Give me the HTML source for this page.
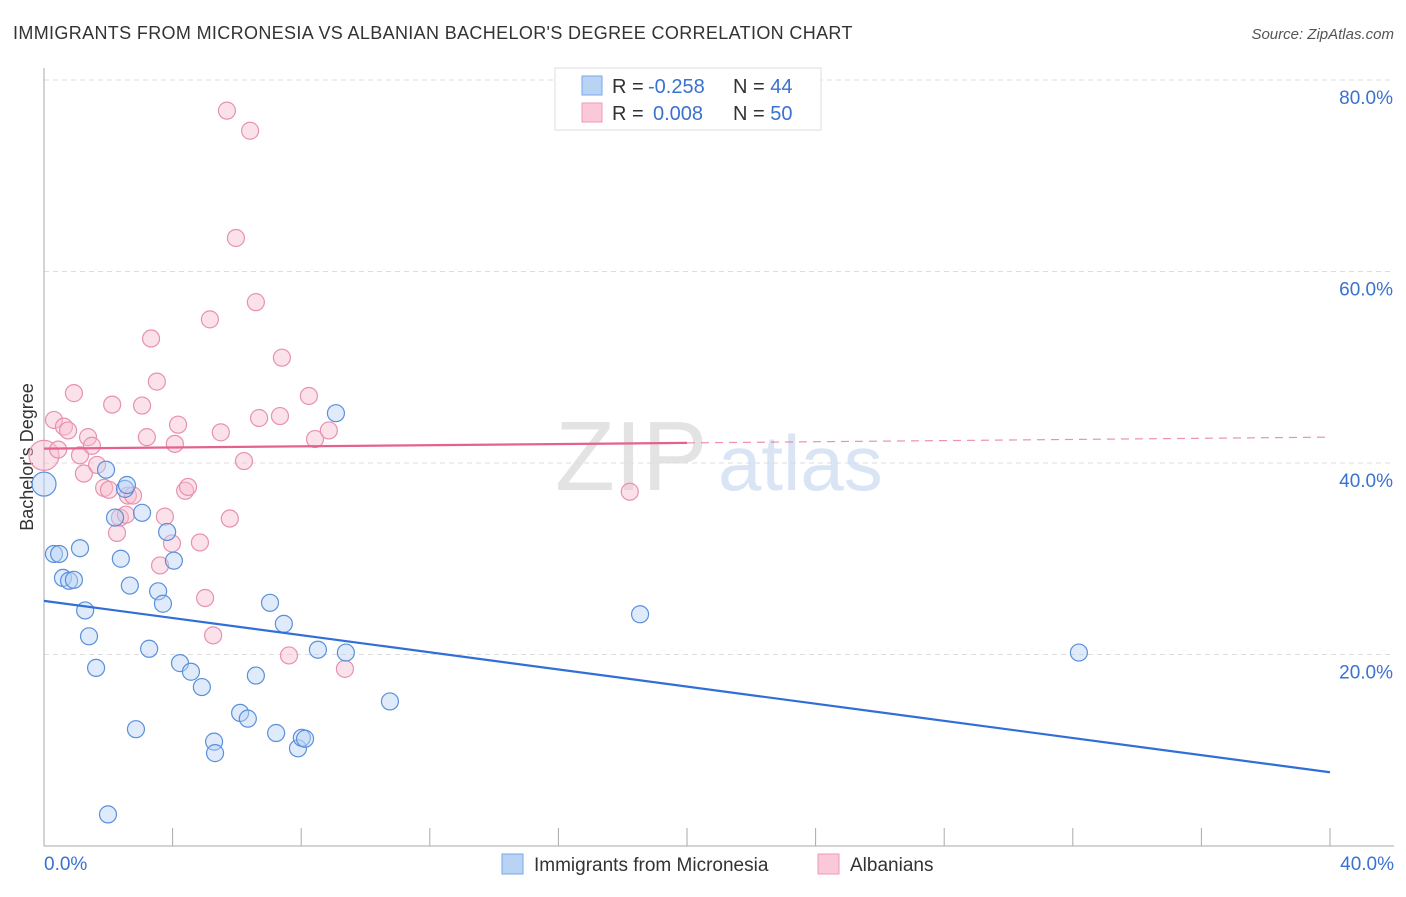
<!DOCTYPE html>
<html><head><meta charset="utf-8"><style>
body{margin:0;background:#fff;font-family:"Liberation Sans",sans-serif}
svg text{font-family:"Liberation Sans",sans-serif}
</style></head><body>
<svg id="chart" width="1406" height="892" xmlns="http://www.w3.org/2000/svg">
<text x="13" y="39" font-size="18" fill="#333" letter-spacing="0.35">IMMIGRANTS FROM MICRONESIA VS ALBANIAN BACHELOR'S DEGREE CORRELATION CHART</text>
<text x="1394" y="39" font-size="15" fill="#555" text-anchor="end" font-style="italic">Source: ZipAtlas.com</text>
<g id="grid"></g>
<text x="555" y="490" font-size="98" fill="#ddd" font-family="Liberation Serif" opacity="0.8">ZIP</text>
<text x="718" y="490" font-size="78" fill="#c9daf0" opacity="0.7">atlas</text>
<text transform="translate(33,457) rotate(-90)" font-size="18" fill="#333" text-anchor="middle">Bachelor's Degree</text>
<g id="pts"></g>
<g id="trends"></g>
<g>
<rect x="555" y="68" width="266" height="62" fill="#fff" stroke="#ddd"/>
<rect x="582" y="76" width="20" height="19" fill="#b9d3f5" stroke="#7aa6e6"/>
<rect x="582" y="103" width="20" height="19" fill="#fac8d8" stroke="#ef9ab6"/>
<text x="612" y="93" font-size="20" fill="#333">R =</text>
<text x="648" y="93" font-size="20" fill="#3a72d0">-0.258</text>
<text x="733" y="93" font-size="20" fill="#333">N = <tspan fill="#3a72d0">44</tspan></text>
<text x="612" y="120" font-size="20" fill="#333">R =</text>
<text x="653" y="120" font-size="20" fill="#3a72d0">0.008</text>
<text x="733" y="120" font-size="20" fill="#333">N = <tspan fill="#3a72d0">50</tspan></text>
</g>
<g>
<rect x="502" y="854" width="21" height="20" fill="#b9d3f5" stroke="#7aa6e6"/>
<text x="534" y="871" font-size="19" fill="#333">Immigrants from Micronesia</text>
<rect x="818" y="854" width="21" height="20" fill="#fac8d8" stroke="#ef9ab6"/>
<text x="850" y="871" font-size="19" fill="#333">Albanians</text>
</g>
</svg>
<script>
const xTicks=[0,4,8,12,16,20,24,28,32,36,40];
const yTicks=[20,40,60,80];
const blueX=[0,0.31,0.47,0.59,0.78,0.93,1.12,1.28,1.40,1.62,1.93,1.99,2.21,2.39,2.52,2.58,2.67,2.86,3.05,3.27,3.55,3.70,3.83,4.04,4.23,4.57,4.91,5.29,5.32,6.10,6.34,6.59,7.03,7.22,7.46,7.90,8.02,8.12,8.52,9.08,9.39,10.76,18.54,32.19];
const blueY=[37.8,30.5,30.5,28.0,27.7,27.8,31.1,24.6,21.9,18.6,39.3,3.3,34.3,30.0,37.3,37.7,27.2,12.2,34.8,20.6,26.6,25.3,32.8,29.8,19.1,18.2,16.6,10.9,9.7,13.9,13.3,17.8,25.4,11.8,23.2,10.2,11.3,11.2,20.5,45.2,20.2,15.1,24.2,20.2];
const pinkX=[0,0.31,0.44,0.62,0.75,0.93,1.12,1.24,1.37,1.49,1.65,1.87,2.02,2.12,2.27,2.36,2.55,2.61,2.77,3.05,3.20,3.33,3.51,3.61,3.76,3.98,4.07,4.17,4.39,4.48,4.85,5.01,5.16,5.26,5.50,5.69,5.78,5.97,6.22,6.41,6.59,6.69,7.34,7.40,7.62,8.24,8.43,8.86,9.36,18.22];
const pinkY=[40.8,44.5,41.4,43.8,43.4,47.3,40.8,38.9,42.7,41.8,39.8,37.4,37.2,46.1,32.7,34.3,34.6,36.6,36.6,46.0,42.7,53.0,48.5,29.3,34.4,31.6,42.0,44.0,37.1,37.5,31.7,25.9,55.0,22.0,43.2,76.8,34.2,63.5,40.2,74.7,56.8,44.7,44.9,51.0,19.9,47.0,42.5,43.4,18.5,37.0];
const blueTrend=[25.6,7.7];
const pinkTrend=[41.5,42.7];
const X0=44,X1=1330,Y0=846,YS=191.5/20;
const sx=v=>X0+(v/40)*(X1-X0);
const sy=v=>Y0-v*YS;
const NS="http://www.w3.org/2000/svg";
const mk=(t,a,p)=>{const e=document.createElementNS(NS,t);for(const k in a)e.setAttribute(k,a[k]);p.appendChild(e);return e;};
const grid=document.getElementById('grid');
yTicks.forEach(t=>{
  const l=mk('line',{x1:X0,x2:1394,y1:sy(t),y2:sy(t),stroke:'#ddd','stroke-dasharray':'5,4'},grid);
  
  
  const tx=mk('text',{x:1393,y:sy(t)+24,'font-size':19,fill:'#3a72d0','text-anchor':'end'},grid);
  tx.textContent=t.toFixed(1)+'%';
  
  
});
const ax=mk('line',{x1:X0,x2:X0,y1:68,y2:Y0,stroke:'#aaa'},grid);


const bx=mk('line',{x1:X0,x2:1394,y1:Y0,y2:Y0,stroke:'#aaa'},grid);


xTicks.forEach(t=>{
  const l=mk('line',{x1:sx(t),x2:sx(t),y1:828,y2:Y0,stroke:'#aaa'},grid);
  
  
});
[[0,'start',44],[40,'end',1394]].forEach(([v,a,x])=>{
  const tx=mk('text',{x:x,y:870,'font-size':19,fill:'#3a72d0','text-anchor':a},grid);
  tx.textContent=v.toFixed(1)+'%';
  
  
});
const pts=document.getElementById('pts');
function draw(xs,ys,fill,stroke,name){
  xs.forEach((x,i)=>{
    const r=(x===0)?(name==='pink'?15:12):8.5;
    const c=mk('circle',{cx:sx(x),cy:sy(ys[i]),r:r,fill:fill,'fill-opacity':0.45,stroke:stroke,'stroke-width':1.2},pts);
    
    
  });
}
draw(pinkX,pinkY,'#f7bfd1','#e891ae','pink');
draw(blueX,blueY,'#b9d3f5','#5a8fdc','blue');
const tr=document.getElementById('trends');
const b=mk('line',{x1:sx(0),y1:sy(blueTrend[0]),x2:sx(40),y2:sy(blueTrend[1]),stroke:'#2f6fd6','stroke-width':2.2},tr);


const pm=pinkTrend[0]+(pinkTrend[1]-pinkTrend[0])*0.5;
const p1=mk('line',{x1:sx(0),y1:sy(pinkTrend[0]),x2:sx(20),y2:sy(pm),stroke:'#e4638c','stroke-width':2.2},tr);


const p2=mk('line',{x1:sx(20),y1:sy(pm),x2:sx(40),y2:sy(pinkTrend[1]),stroke:'#e4638c','stroke-width':1.2,'stroke-dasharray':'8,6',opacity:0.7},tr);


</script>
</body></html>
